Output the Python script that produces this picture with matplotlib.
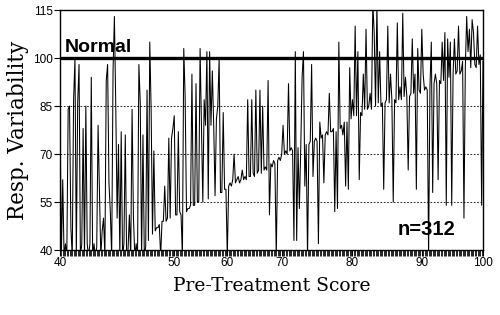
import numpy as np
import matplotlib
matplotlib.use("Agg")
import matplotlib.pyplot as plt

# respuesta por sujeto, ordenados por puntaje pre-tratamiento
valores = [
    83, 38, 62, 38, 42, 38, 84, 85, 47, 38,
    87, 100, 38, 86, 98, 38, 42, 78, 38, 85,
    42, 38, 42, 94, 38, 42, 38, 41, 79, 59,
    38, 46, 50, 38, 93, 98, 61, 52, 38, 96,
    113, 85, 50, 73, 38, 77, 38, 42, 76, 38,
    40, 51, 38, 84, 50, 38, 42, 38, 98, 86,
    38, 76, 38, 41, 90, 43, 105, 84, 45, 71,
    46, 47, 47, 48, 38, 49, 49, 60, 49, 50,
    75, 50, 75, 78, 82, 51, 51, 77, 52, 51,
    38, 103, 88, 52, 53, 53, 54, 95, 54, 54,
    92, 55, 55, 103, 78, 55, 87, 79, 102, 56,
    102, 79, 96, 79, 57, 81, 85, 100, 58, 58,
    83, 59, 59, 38, 60, 61, 60, 62, 70, 61,
    62, 63, 61, 62, 65, 62, 63, 62, 87, 63,
    63, 87, 64, 63, 90, 64, 65, 90, 64, 85,
    65, 66, 65, 93, 51, 67, 66, 68, 67, 38,
    68, 69, 68, 70, 79, 70, 71, 70, 92, 71,
    72, 71, 43, 102, 43, 72, 53, 72, 94, 102,
    60, 73, 38, 73, 74, 98, 63, 74, 75, 74,
    42, 80, 75, 76, 61, 76, 77, 76, 89, 77,
    77, 78, 52, 77, 53, 105, 78, 79, 76, 80,
    60, 80, 59, 97, 81, 87, 82, 110, 82, 102,
    62, 83, 82, 95, 84, 109, 84, 85, 89, 84,
    117, 108, 85, 117, 86, 102, 85, 86, 59, 86,
    87, 110, 86, 95, 87, 55, 87, 86, 111, 87,
    91, 87, 114, 88, 94, 88, 65, 88, 89, 106,
    89, 95, 59, 103, 90, 89, 109, 95, 90, 91,
    90, 38, 91, 105, 58, 92, 95, 92, 62, 93,
    92, 105, 93, 108, 54, 106, 94, 105, 54, 95,
    106, 95, 96, 110, 95, 96, 99, 50, 97, 113,
    102, 109, 97, 112, 108, 98, 97, 110, 98, 101,
    54, 99,
]

etiquetas_x = ["40", "50", "60", "70", "80", "90", "100"]
pos_etiquetas = [0, 84, 123, 163, 215, 266, 311]
niveles_grid = [55, 70, 85]
nivel_normal = 100

x = np.arange(len(valores))

fig = plt.figure(figsize=(5, 3.15), dpi=100)
ax = fig.add_axes([0.12, 0.206, 0.846, 0.762])

ax.plot(x, valores, color="black", linewidth=0.75)

# líneas de referencia
for nivel in niveles_grid:
    ax.axhline(nivel, color="black", linewidth=0.6, linestyle=(0, (2, 2)))
ax.axhline(nivel_normal, color="black", linewidth=2.4)

ax.set_xlim(0, len(valores) - 1)
ax.set_ylim(40, 115)
ax.set_yticks([40, 55, 70, 85, 100, 115])
ax.set_xticks(pos_etiquetas)
ax.set_xticklabels(etiquetas_x)
ax.set_xticks(x, minor=True)

ax.tick_params(axis="both", labelsize=8.5, direction="out", length=4, width=0.8, pad=1)
ax.tick_params(axis="x", which="minor", length=4, width=0.6)
for lab in ax.get_xticklabels() + ax.get_yticklabels():
    lab.set_family("Liberation Sans")

for s in ax.spines.values():
    s.set_linewidth(1.0)

ax.text(3.7, 102, "Normal", fontsize=14, fontweight="bold", family="Liberation Sans")
ax.text(0.934, 0.045, "n=312", transform=ax.transAxes, fontsize=14.5, fontweight="bold",
        family="Liberation Sans", ha="right", va="bottom")

ax.set_xlabel("Pre-Treatment Score", fontsize=13.5, family="DejaVu Serif", labelpad=6)
ax.set_ylabel("Resp. Variability", fontsize=15.5, family="DejaVu Serif", labelpad=3)

fig.savefig("out.png", dpi=100)
